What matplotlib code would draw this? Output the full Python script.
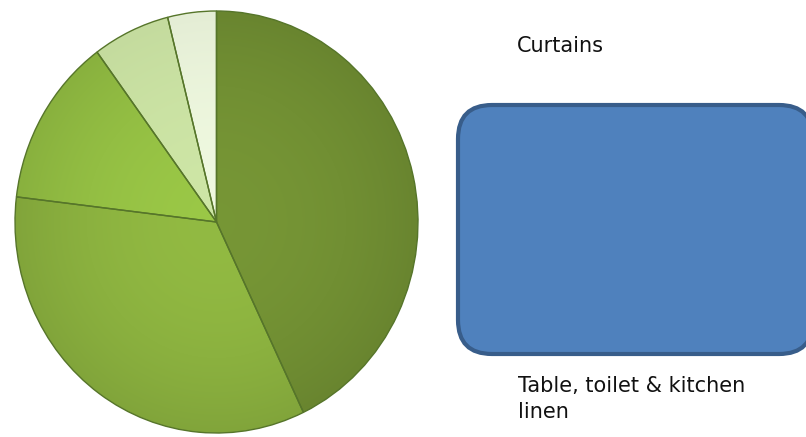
import numpy as np
import matplotlib
matplotlib.use('Agg')
import matplotlib.pyplot as plt
from matplotlib.patches import FancyBboxPatch
from matplotlib.colors import to_rgb

# share of each category (%), clockwise from 12 o'clock
shares = [42.9, 34.0, 13.0, 6.2, 3.9]
slice_colors = ['#718f33', '#8bb13f', '#93be43', '#c4db9e', '#e4edd5']
legend_labels = ['Curtains', 'Table, toilet & kitchen\nlinen']
legend_color = '#4f81bd'

W, H = 806, 437
fig = plt.figure(figsize=(W / 100, H / 100), dpi=100)

# pie axes, placed in pixel units
px, py, pw, ph = 15, 4, 403, 422
ax = fig.add_axes([px / W, py / H, pw / W, ph / H])
wedges, _ = ax.pie(shares, colors=slice_colors, startangle=90, counterclock=False,
                   radius=1.0, wedgeprops=dict(edgecolor='#56752a', linewidth=1.0))
ax.set_aspect('auto')
ax.set_xlim(-1, 1)
ax.set_ylim(-1, 1)
ax.axis('off')

# soft shading inside each slice: lighter toward the middle, darker at the rim
yy, xx = np.mgrid[-1:1:400j, -1:1:400j]
rr = np.clip(np.hypot(xx, yy), 0, 1)
for w, c in zip(wedges, slice_colors):
    base = np.array(to_rgb(c))
    # pale slices get less darkening so they stay light green
    depth = 0.12 if base.mean() < 0.6 else 0.05
    shade = 1.05 - depth * rr ** 2
    img = np.clip(base[None, None, :] * shade[:, :, None], 0, 1)
    im = ax.imshow(img, extent=(-1, 1, -1, 1), origin='lower', zorder=1.5,
                   interpolation='bilinear', aspect='auto')
    im.set_clip_path(w)
    w.set_zorder(2)
    w.set_facecolor('none')

# legend area drawn on a full-figure axes in pixel coordinates
lax = fig.add_axes([0, 0, 1, 1])
lax.set_xlim(0, W)
lax.set_ylim(H, 0)
lax.axis('off')

lax.text(517, 52, legend_labels[0], fontsize=15, color='#111111',
         family='DejaVu Sans', va='baseline', ha='left')

box = FancyBboxPatch((458, 105), 355, 249,
                     boxstyle='round,pad=0,rounding_size=34',
                     facecolor=legend_color, edgecolor='#385d8a', linewidth=3)
lax.add_patch(box)

# second label wraps onto two lines
for i, line in enumerate(legend_labels[1].split('\n')):
    lax.text(518, 392 + 26 * i, line, fontsize=15, color='#111111',
             family='DejaVu Sans', va='baseline', ha='left')

fig.savefig('out.png', dpi=100)
